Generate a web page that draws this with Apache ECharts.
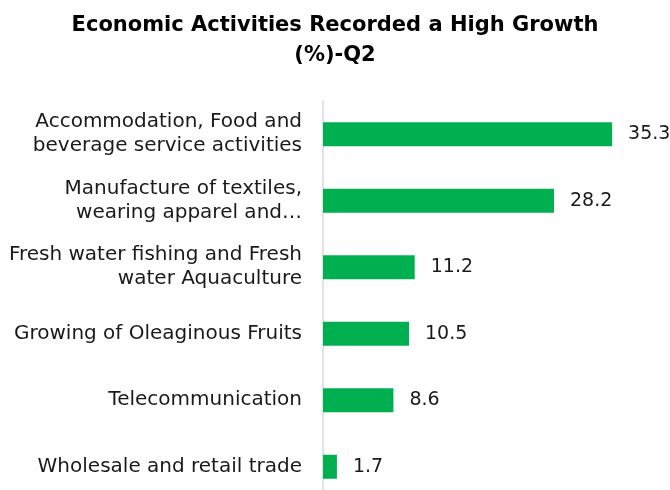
<!DOCTYPE html>
<html>
<head>
<meta charset="utf-8">
<script src="https://cdn.jsdelivr.net/npm/echarts@6/dist/echarts.min.js"></script>
<style>
  html, body { margin: 0; padding: 0; background: #fff; }
  #chart { width: 670px; height: 490px; }
</style>
</head>
<body>
<div id="chart"></div>
<script>
const categories = [
  'Accommodation, Food and\nbeverage service activities',
  'Manufacture of textiles,\nwearing apparel and…',
  'Fresh water fishing and Fresh\nwater Aquaculture',
  'Growing of Oleaginous Fruits',
  'Telecommunication',
  'Wholesale and retail trade'
]
const growth = [35.3, 28.2, 11.2, 10.5, 8.6, 1.7]

const chart = echarts.init(document.getElementById('chart'), null, { renderer: 'canvas' })
chart.setOption({
  animation: false,
  title: {
    text: 'Economic Activities Recorded a High Growth\n(%)-Q2',
    left: 'center',
    top: 6,
    textStyle: {
      fontFamily: 'DejaVu Sans',
      fontWeight: 'bold',
      fontSize: 21,
      lineHeight: 30,
      color: '#000'
    }
  },
  grid: { left: 323, top: 101, height: 399, width: 327.6, outerBoundsMode: 'none', containLabel: false },
  xAxis: {
    type: 'value',
    min: 0,
    max: 40,
    show: false
  },
  yAxis: {
    type: 'category',
    data: categories,
    inverse: true,
    axisLine: { show: true, lineStyle: { color: '#d9d9d9', width: 1.5 } },
    axisTick: { show: false },
    axisLabel: {
      margin: 21,
      fontFamily: 'DejaVu Sans',
      fontSize: 20,
      lineHeight: 24,
      color: '#1a1a1a',
      align: 'right'
    }
  },
  series: [{
    type: 'bar',
    data: growth,
    barWidth: 24,
    itemStyle: { color: '#00B050' },
    label: {
      show: true,
      position: 'right',
      distance: 16,
      fontFamily: 'DejaVu Sans',
      fontSize: 19,
      color: '#1a1a1a'
    }
  }]
})
</script>
</body>
</html>
